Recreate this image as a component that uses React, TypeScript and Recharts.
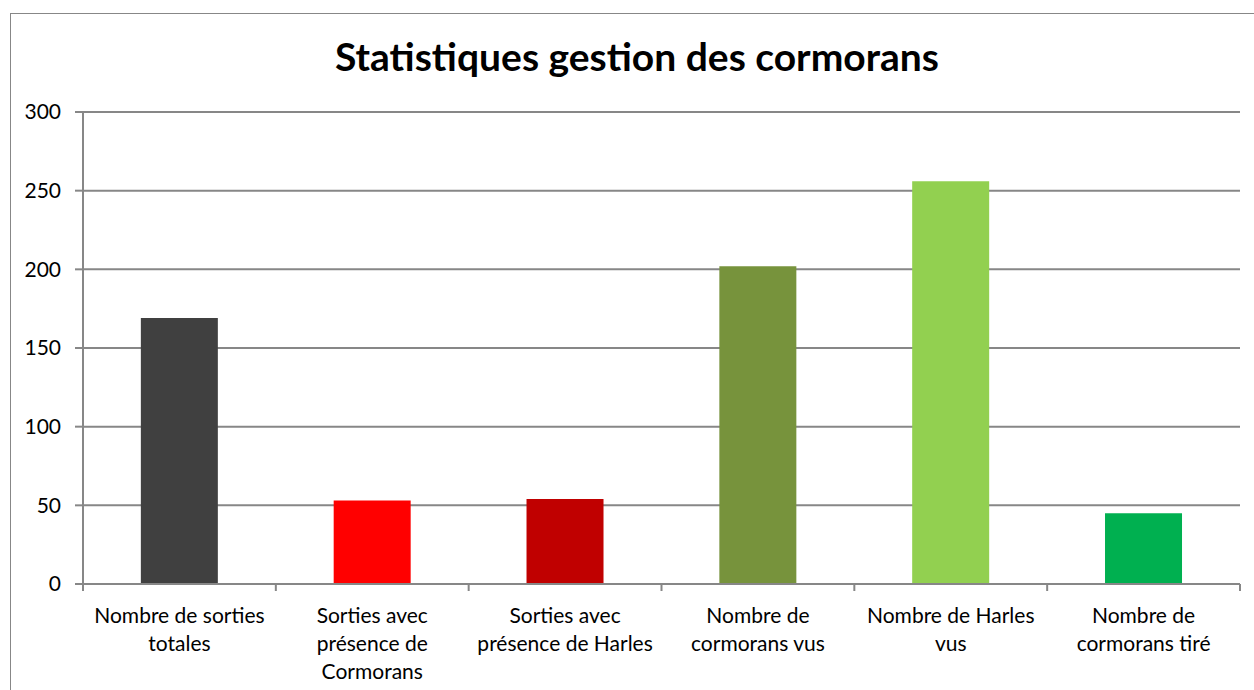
import React from 'react';
import { BarChart, Bar, XAxis, YAxis, CartesianGrid, Cell } from 'recharts';

const categories = [
  'Nombre de sorties\ntotales',
  'Sorties avec\nprésence de\nCormorans',
  'Sorties avec\nprésence de Harles',
  'Nombre de\ncormorans vus',
  'Nombre de Harles\nvus',
  'Nombre de\ncormorans tiré',
];
const values = [169, 53, 54, 202, 256, 45];
const barColors = ['#404040', '#FF0000', '#C00000', '#77933C', '#92D050', '#00B050'];
const yTicks = [0, 50, 100, 150, 200, 250, 300];
const title = 'Statistiques gestion des cormorans';

const data = categories.map((c, i) => ({ name: c, value: values[i] }));

const W = 1254;
const H = 690;
const PLOT_LEFT = 83;
const PLOT_RIGHT = 1240;
const PLOT_TOP = 112;
const PLOT_BOTTOM = 584;
const FONT = 'Lato, "Open Sans", sans-serif';
const GRAY = '#878787';

const bandHalf = (PLOT_RIGHT - PLOT_LEFT) / categories.length / 2;

const XTick = (props: any) => {
  const { x, payload, index } = props;
  const lines = String(payload.value).split('\n');
  return (
    <g>
      <line x1={x - bandHalf} x2={x - bandHalf} y1={PLOT_BOTTOM} y2={PLOT_BOTTOM + 7} stroke={GRAY} strokeWidth={2} />
      {index === categories.length - 1 && (
        <line x1={x + bandHalf} x2={x + bandHalf} y1={PLOT_BOTTOM} y2={PLOT_BOTTOM + 7} stroke={GRAY} strokeWidth={2} />
      )}
      {lines.map((l, i) => (
        <text
          key={i}
          x={x}
          y={PLOT_BOTTOM + 34 + i * 28}
          dominantBaseline="middle"
          textAnchor="middle"
          fontSize={21}
          fontFamily={FONT}
          fill="#000"
        >
          {l}
        </text>
      ))}
    </g>
  );
};

export default function App() {
  return (
    <div style={{ position: 'absolute', left: 0, top: 0, width: W, height: H, overflow: 'hidden', background: '#fff' }}>
      <div
        style={{
          position: 'absolute',
          left: 10,
          top: 13,
          width: W + 100,
          height: H + 100,
          border: `1px solid ${GRAY}`,
          boxSizing: 'border-box',
        }}
      />
      <div
        style={{
          position: 'absolute',
          left: 0,
          top: 32,
          width: W + 20,
          textAlign: 'center',
          fontFamily: FONT,
          fontWeight: 'bold',
          fontSize: 39,
          color: '#000',
          lineHeight: '48px',
        }}
      >
        {title}
      </div>
      <div style={{ position: 'absolute', left: 0, top: 0 }}>
        <BarChart
          width={W}
          height={H}
          data={data}
          margin={{ top: PLOT_TOP, right: W - PLOT_RIGHT, left: 0, bottom: 0 }}
          barCategoryGap="30%"
        >
          <CartesianGrid vertical={false} stroke={GRAY} strokeWidth={2} />
          <XAxis
            dataKey="name"
            interval={0}
            tick={<XTick />}
            tickLine={false}
            axisLine={{ stroke: GRAY, strokeWidth: 2 }}
            height={H - PLOT_BOTTOM}
          />
          <YAxis
            width={PLOT_LEFT}
            domain={[0, 300]}
            ticks={yTicks}
            interval={0}
            tickSize={8}
            tickMargin={14}
            tickLine={{ stroke: GRAY, strokeWidth: 2 }}
            axisLine={{ stroke: GRAY, strokeWidth: 2 }}
            tick={{ fill: '#000', fontSize: 21, fontFamily: FONT }}
          />
          <Bar dataKey="value" isAnimationActive={false}>
            {data.map((d, i) => (
              <Cell key={i} fill={barColors[i]} />
            ))}
          </Bar>
        </BarChart>
      </div>
    </div>
  );
}
